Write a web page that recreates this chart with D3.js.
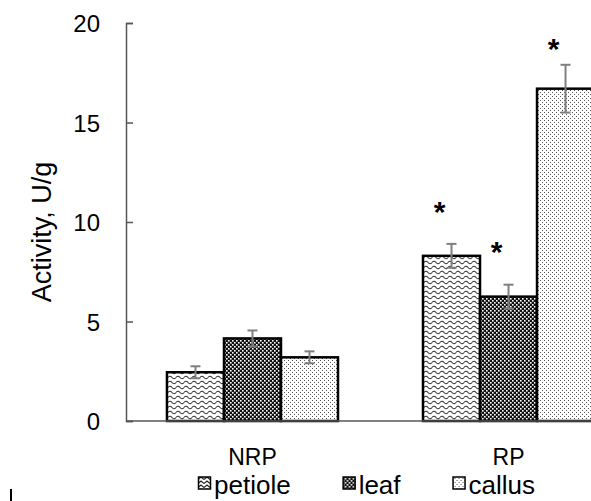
<!DOCTYPE html>
<html>
<head>
<meta charset="utf-8">
<script src="https://cdn.jsdelivr.net/npm/d3@7"></script>
<style>
  body { margin: 0; background: #fff; }
  svg { display: block; font-family: Arial, "Liberation Sans", sans-serif; }
</style>
</head>
<body>
<div id="chart"></div>
<script>
// data
let groups = ["NRP", "RP"];
let series = ["petiole", "leaf", "callus"];
let petiole = [2.45, 8.3];
let leaf = [4.15, 6.25];
let callus = [3.2, 16.7];
let petioleErr = [0.3, 0.6];
let leafErr = [0.4, 0.6];
let callusErr = [0.3, 1.2];
// height of the significance asterisks (null = none)
let petioleStar = [null, 10.85];
let leafStar = [null, 8.85];
let callusStar = [null, 19.05];
let yTicks = [0, 5, 10, 15, 20];

let values = { petiole: petiole, leaf: leaf, callus: callus };
let errors = { petiole: petioleErr, leaf: leafErr, callus: callusErr };
let stars = { petiole: petioleStar, leaf: leafStar, callus: callusStar };

let width = 591, height = 501;

let svg = d3.select("#chart").append("svg")
  .attr("width", width)
  .attr("height", height);

// patterns
let defs = svg.append("defs");

let wave = defs.append("pattern")
  .attr("id", "p-petiole")
  .attr("patternUnits", "userSpaceOnUse")
  .attr("width", 8).attr("height", 5);
wave.append("rect").attr("width", 8).attr("height", 5).attr("fill", "#fff");
wave.append("path")
  .attr("d", "M0 2.5 Q2 0 4 2.5 T8 2.5")
  .attr("fill", "none").attr("stroke", "#333").attr("stroke-width", 1.1);

let checker = defs.append("pattern")
  .attr("id", "p-leaf")
  .attr("patternUnits", "userSpaceOnUse")
  .attr("width", 4).attr("height", 4);
checker.append("rect").attr("width", 4).attr("height", 4).attr("fill", "#111");
checker.append("rect").attr("x", 0).attr("y", 0).attr("width", 1.6).attr("height", 1.6).attr("fill", "#fff");
checker.append("rect").attr("x", 2).attr("y", 2).attr("width", 1.6).attr("height", 1.6).attr("fill", "#fff");

let dots = defs.append("pattern")
  .attr("id", "p-callus")
  .attr("patternUnits", "userSpaceOnUse")
  .attr("width", 4).attr("height", 4);
dots.append("rect").attr("width", 4).attr("height", 4).attr("fill", "#fff");
dots.append("rect").attr("x", 0).attr("y", 0).attr("width", 1).attr("height", 1).attr("fill", "#555");
dots.append("rect").attr("x", 2).attr("y", 2).attr("width", 1).attr("height", 1).attr("fill", "#555");

let chev = defs.append("pattern")
  .attr("id", "p-petiole-key")
  .attr("patternUnits", "userSpaceOnUse")
  .attr("width", 6).attr("height", 4);
chev.append("rect").attr("width", 6).attr("height", 4).attr("fill", "#fff");
chev.append("path")
  .attr("d", "M0 3.5 L3 1 L6 3.5")
  .attr("fill", "none").attr("stroke", "#222").attr("stroke-width", 1.2);

let fillFor = { petiole: "url(#p-petiole)", leaf: "url(#p-leaf)", callus: "url(#p-callus)" };
let keyFill = { petiole: "url(#p-petiole-key)", leaf: "url(#p-leaf)", callus: "url(#p-callus)" };

// scales
let x0 = d3.scaleBand()
  .domain(groups)
  .range([126, 635])
  .paddingInner(0.332)
  .paddingOuter(0.16);

let x1 = d3.scaleBand()
  .domain(series)
  .range([0, x0.bandwidth()]);

let y = d3.scaleLinear()
  .domain([0, 20])
  .range([421, 23]);

// bars
let bars = [];
groups.forEach(function (g, i) {
  series.forEach(function (s) {
    bars.push({ group: g, key: s, value: values[s][i], err: errors[s][i], star: stars[s][i] });
  });
});

let barG = svg.append("g");
barG.selectAll("rect")
  .data(bars)
  .enter().append("rect")
  .attr("x", function (d) { return x0(d.group) + x1(d.key); })
  .attr("y", function (d) { return y(d.value); })
  .attr("width", x1.bandwidth())
  .attr("height", function (d) { return y(0) - y(d.value); })
  .attr("fill", function (d) { return fillFor[d.key]; })
  .attr("stroke", "#000")
  .attr("stroke-width", 2.5);

// error bars
let eb = svg.append("g")
  .attr("stroke", "#7f7f7f")
  .attr("stroke-width", 2);
bars.forEach(function (d) {
  let cx = x0(d.group) + x1(d.key) + x1.bandwidth() / 2;
  eb.append("line").attr("x1", cx).attr("x2", cx)
    .attr("y1", y(d.value + d.err)).attr("y2", y(d.value - d.err));
  eb.append("line").attr("x1", cx - 5).attr("x2", cx + 5)
    .attr("y1", y(d.value + d.err)).attr("y2", y(d.value + d.err));
  eb.append("line").attr("x1", cx - 5).attr("x2", cx + 5)
    .attr("y1", y(d.value - d.err)).attr("y2", y(d.value - d.err));
});

// asterisks
svg.append("g").selectAll("text")
  .data(bars.filter(function (d) { return d.star != null; }))
  .enter().append("text")
  .attr("x", function (d) { return x0(d.group) + x1(d.key) + x1.bandwidth() / 2 - 12; })
  .attr("y", function (d) { return y(d.star) + 17; })
  .attr("text-anchor", "middle")
  .style("font-size", "30px")
  .style("font-weight", "bold")
  .text("*");

// axes
let axisG = svg.append("g")
  .attr("transform", "translate(126,0)")
  .call(d3.axisRight(y).tickValues(yTicks).tickSize(7).tickFormat(""));
axisG.select(".domain").attr("stroke", "#555").attr("stroke-width", 1.5);
axisG.selectAll(".tick line").attr("stroke", "#555").attr("stroke-width", 1.5);

svg.append("g").selectAll("text")
  .data(yTicks)
  .enter().append("text")
  .attr("x", 100)
  .attr("y", function (d) { return y(d) + 9; })
  .attr("text-anchor", "end")
  .style("font-size", "24px")
  .text(function (d) { return d; });

svg.append("line")
  .attr("x1", 126).attr("x2", width)
  .attr("y1", y(0)).attr("y2", y(0))
  .attr("stroke", "#555").attr("stroke-width", 1.5);

svg.append("g").selectAll("text")
  .data(groups)
  .enter().append("text")
  .attr("x", function (d) { return x0(d) + x0.bandwidth() / 2; })
  .attr("y", 465)
  .attr("text-anchor", "middle")
  .style("font-size", "23px")
  .text(function (d) { return d; });

svg.append("text")
  .attr("transform", "translate(51,232) rotate(-90)")
  .attr("text-anchor", "middle")
  .style("font-size", "27px")
  .text("Activity, U/g");

// legend
let lx = 198;
series.forEach(function (s) {
  let item = svg.append("g").attr("transform", "translate(" + lx + ",0)");
  item.append("rect")
    .attr("x", 0.5).attr("y", 477)
    .attr("width", 12).attr("height", 12)
    .attr("fill", keyFill[s])
    .attr("stroke", "#000").attr("stroke-width", 1.5);
  let t = item.append("text")
    .attr("x", 16).attr("y", 494)
    .style("font-size", "26px")
    .text(s);
  lx += 16 + t.node().getComputedTextLength() + 52;
});

// stray mark at bottom left
svg.append("line")
  .attr("x1", 11).attr("x2", 11)
  .attr("y1", 489).attr("y2", 501)
  .attr("stroke", "#000").attr("stroke-width", 2);
</script>
</body>
</html>
